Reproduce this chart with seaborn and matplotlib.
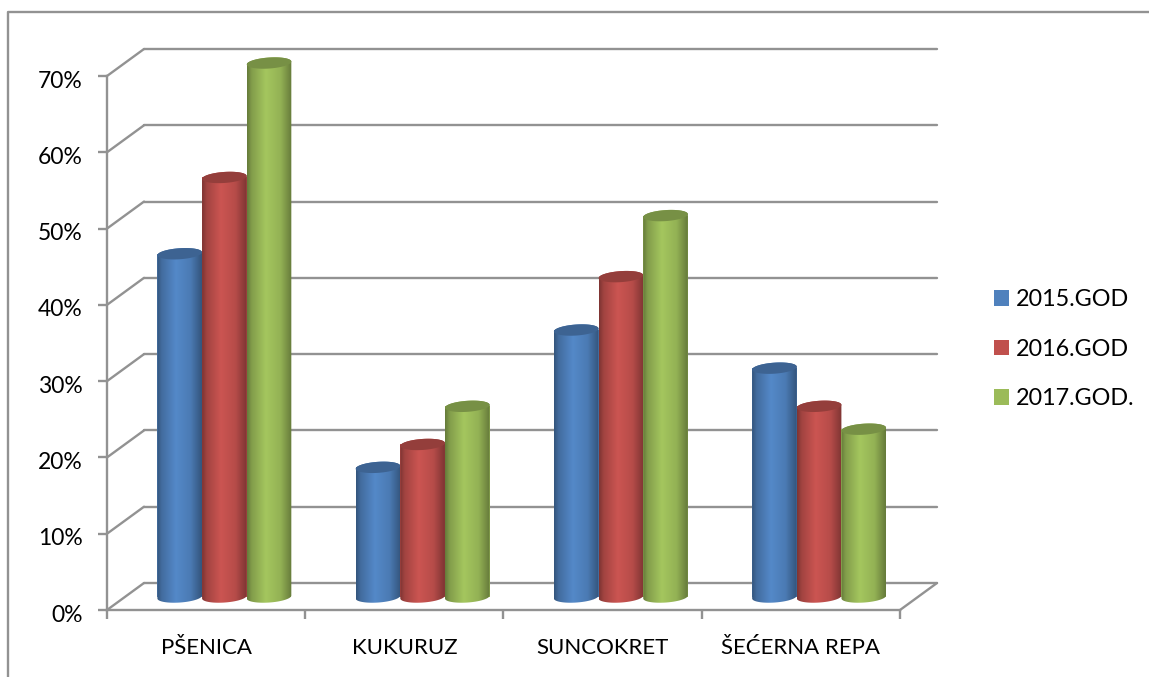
import numpy as np
import pandas as pd
import matplotlib
matplotlib.use("Agg")
import matplotlib.pyplot as plt
import matplotlib.colors as mcolors
from matplotlib.lines import Line2D
from matplotlib.path import Path
from matplotlib.patches import PathPatch
from matplotlib.transforms import Affine2D, IdentityTransform
import seaborn as sns

# values
crops = ["PŠENICA", "KUKURUZ", "SUNCOKRET", "ŠEĆERNA REPA"]
years = ["2015.GOD", "2016.GOD", "2017.GOD."]
share_2015 = [45, 17, 35, 30]
share_2016 = [55, 20, 42, 25]
share_2017 = [70, 25, 50, 22]
y_ticks = [0, 10, 20, 30, 40, 50, 60, 70]
y_labels = ["0%", "10%", "20%", "30%", "40%", "50%", "60%", "70%"]
colors = ["#4f81bd", "#c0504d", "#9bbb59"]

GRAY = "#929292"
W, H = 1149, 677
DEPTH_X, DEPTH_Y = 37, 27   # px offset of the back wall
LW = 1.7

sns.set_theme(style="white")
plt.rcParams["font.family"] = ["Lato", "DejaVu Sans"]

df = pd.DataFrame({
    "crop": crops * 3,
    "year": [y for y in years for _ in crops],
    "share": share_2015 + share_2016 + share_2017,
})

fig = plt.figure(figsize=(W / 100, H / 100), dpi=100)
ax = fig.add_axes([107 / W, (H - 610) / H, 793 / W, 534 / H])
ax.patch.set_alpha(0)

sns.barplot(data=df, x="crop", y="share", hue="year", hue_order=years, palette=colors,
            saturation=1, width=0.676, gap=0, ax=ax, zorder=3, linewidth=0)
ax.set_xlim(-0.5, 3.5)
ax.set_ylim(0, 70)
ax.set_xlabel("")
ax.set_ylabel("")
fig.canvas.draw()

# back wall + left side wall
back = ax.transData + Affine2D().translate(DEPTH_X, DEPTH_Y)
for t in y_ticks:
    ax.plot([-0.5, 3.5], [t, t], color=GRAY, lw=LW, transform=back, clip_on=False, zorder=1)
    ax.plot([-0.5, -0.5 + DEPTH_X / 198.25], [t, t + DEPTH_Y / 7.63], color=GRAY, lw=LW, clip_on=False, zorder=1)
ax.plot([3.5, 3.5 + DEPTH_X / 198.25], [0, DEPTH_Y / 7.63], color=GRAY, lw=LW, clip_on=False, zorder=1)

# axes
sns.despine(ax=ax, top=True, right=True)
for side in ["left", "bottom"]:
    ax.spines[side].set_color(GRAY)
    ax.spines[side].set_linewidth(LW)
    ax.spines[side].set_zorder(2)
ax.set_yticks(y_ticks, y_labels)
ax.tick_params(axis="y", length=6.5, width=LW, color=GRAY, pad=11, labelsize=16.5, labelcolor="black", left=True)
ax.set_xticks([-0.5, 0.5, 1.5, 2.5, 3.5], minor=True)
ax.tick_params(axis="x", which="minor", length=6.5, width=LW, color=GRAY, bottom=True)
ax.tick_params(axis="x", which="major", length=0, pad=20, labelsize=16, labelcolor="black")
for lab in ax.get_yticklabels():
    lab.set_transform(lab.get_transform() + Affine2D().translate(0, -3))


def ellipse_pts(cx, cy, width, height, angle, t):
    a = np.deg2rad(angle)
    ex = width / 2 * np.cos(t)
    ey = height / 2 * np.sin(t)
    return np.column_stack([cx + ex * np.cos(a) - ey * np.sin(a), cy + ex * np.sin(a) + ey * np.cos(a)])


TILT = 4
CAP_H = 11
SHIFT = 0.092  # bars sit in the middle of the floor depth
LIFT = 1.7     # same, upwards (in % units)
stops_x = [0, 0.1, 0.42, 0.75, 1]
stops_k = [0.66, 0.84, 1.06, 0.95, 0.66]
z = 3
for cont, col in zip(ax.containers, colors):
    rgb = np.array(mcolors.to_rgb(col))
    xs = np.linspace(0, 1, 64)
    k = np.interp(xs, stops_x, stops_k)
    grad = np.clip(rgb[None, None, :] * k[None, :, None], 0, 1)
    for bar in cont:
        bar.set_x(bar.get_x() + SHIFT)
        bar.set_y(bar.get_y() + LIFT)
        z += 1
        bar.set_zorder(z)
        bar.set_clip_on(False)
        x0, x1 = bar.get_x(), bar.get_x() + bar.get_width()
        y0, y1 = bar.get_y(), bar.get_y() + bar.get_height()
        (px0, py0), (px1, py1) = ax.transData.transform([(x0, y0), (x1, y1)])
        w = px1 - px0
        cx = (px0 + px1) / 2
        low = ellipse_pts(cx, py0, w, CAP_H, TILT, np.linspace(np.pi, 2 * np.pi, 40))
        top = ellipse_pts(cx, py1, w, CAP_H, TILT, np.linspace(0, np.pi, 40))
        body = np.vstack([low, top, low[:1]])
        im = ax.imshow(grad, extent=(x0, x1, y0 - 2, y1 + 2), aspect="auto", interpolation="bilinear", zorder=z)
        im.set_clip_box(fig.bbox)
        im.set_clip_path(Path(body), IdentityTransform())
        cap = ellipse_pts(cx, py1, w, CAP_H, TILT, np.linspace(0, 2 * np.pi, 80))
        ax.add_patch(PathPatch(Path(cap), transform=IdentityTransform(), facecolor=rgb * 0.77,
                               edgecolor="none", zorder=z, clip_on=False))
ax.set_xlim(-0.5, 3.5)
ax.set_ylim(0, 70)

# legend
handles, labels = ax.get_legend_handles_labels()
leg = ax.legend(handles, labels, loc="center left", bbox_to_anchor=(973 / W, (H - 349) / H),
                bbox_transform=fig.transFigure, frameon=False, fontsize=16.8,
                handlelength=0.65, handleheight=0.65, handletextpad=0.28, labelspacing=1.22)
for t in leg.get_texts():
    t.set_color("black")

# chart frame, runs off the right and bottom edge
fig.add_artist(Line2D([8 / W, 8 / W, 1], [0, (H - 12) / H, (H - 12) / H], color=GRAY, lw=LW))

fig.savefig("out.png", dpi=100)
